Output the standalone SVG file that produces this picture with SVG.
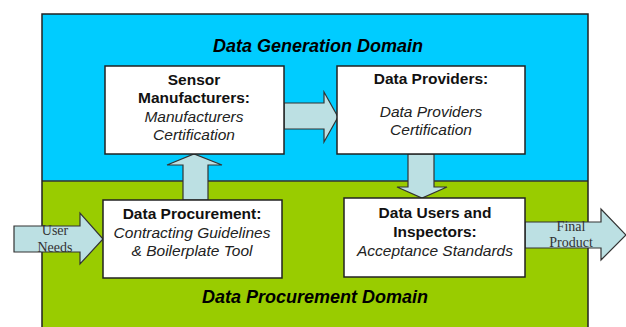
<svg xmlns="http://www.w3.org/2000/svg" width="626" height="327" viewBox="0 0 626 327">
<style>
.box{fill:#ffffff;stroke:#222222;stroke-width:1.5}
.arr{fill:#BCE0E3;stroke:#333333;stroke-width:1.2;stroke-linejoin:miter}
.t{font-family:"Liberation Sans",Arial,sans-serif;font-size:15.5px;fill:#111111;text-anchor:middle}
.b{font-weight:bold}
.i{font-style:italic;fill:#222222}
.dom{font-family:"Liberation Sans",Arial,sans-serif;font-size:18px;font-weight:bold;font-style:italic;fill:#000000;text-anchor:middle}
.s{font-family:"Liberation Serif","Times New Roman",serif;font-size:14px;fill:#333333;text-anchor:middle}
</style>
<rect x="0" y="0" width="626" height="327" fill="#ffffff"/>
<g id="domains">
<rect x="42" y="14" width="546" height="167" fill="#00CCFF"/>
<rect x="42" y="181" width="546" height="150" fill="#99CC00"/>
<line x1="42" y1="181" x2="588" y2="181" stroke="#333333" stroke-width="1.5"/>
<path d="M42,331 V14 H588 V331" fill="none" stroke="#222222" stroke-width="1.5"/>
<text class="dom" x="318" y="52">Data Generation Domain</text>
<text class="dom" x="315" y="303">Data Procurement Domain</text>
</g>
<g id="connectors">
<polygon class="arr" points="284,103 324,103 324,92 338,117 324,142 324,129 284,129"/>
<polygon class="arr" points="183,200 183,165 167,165 194,154 222,165 208,165 208,200"/>
<polygon class="arr" points="408,154 434,154 434,187 447,187 422,198 397,187 408,187"/>
<polygon class="arr" points="14,226 80,226 80,213 103,239 80,264 80,252 14,252"/>
<polygon class="arr" points="525,222 601,222 601,209 626,235 601,260 601,248 525,248"/>
<text class="s" x="55" y="235">User</text>
<text class="s" x="55" y="252">Needs</text>
<text class="s" x="571" y="231">Final</text>
<text class="s" x="571" y="247">Product</text>
</g>
<g id="sensor">
<rect class="box" x="105" y="66" width="179" height="88"/>
<text class="t b" x="194" y="85">Sensor</text>
<text class="t b" x="194" y="103">Manufacturers:</text>
<text class="t i" x="194" y="122">Manufacturers</text>
<text class="t i" x="194" y="140">Certification</text>
</g>
<g id="providers">
<rect class="box" x="337" y="66" width="188" height="88"/>
<text class="t b" x="431" y="84">Data Providers:</text>
<text class="t i" x="431" y="117">Data Providers</text>
<text class="t i" x="431" y="135">Certification</text>
</g>
<g id="procurement">
<rect class="box" x="103" y="200" width="179" height="78"/>
<text class="t b" x="192" y="219">Data Procurement:</text>
<text class="t i" x="192" y="238">Contracting Guidelines</text>
<text class="t i" x="192" y="256">&amp; Boilerplate Tool</text>
</g>
<g id="users">
<rect class="box" x="344" y="198" width="181" height="79"/>
<text class="t b" x="435" y="218">Data Users and</text>
<text class="t b" x="435" y="237">Inspectors:</text>
<text class="t i" x="435" y="256">Acceptance Standards</text>
</g>
</svg>
